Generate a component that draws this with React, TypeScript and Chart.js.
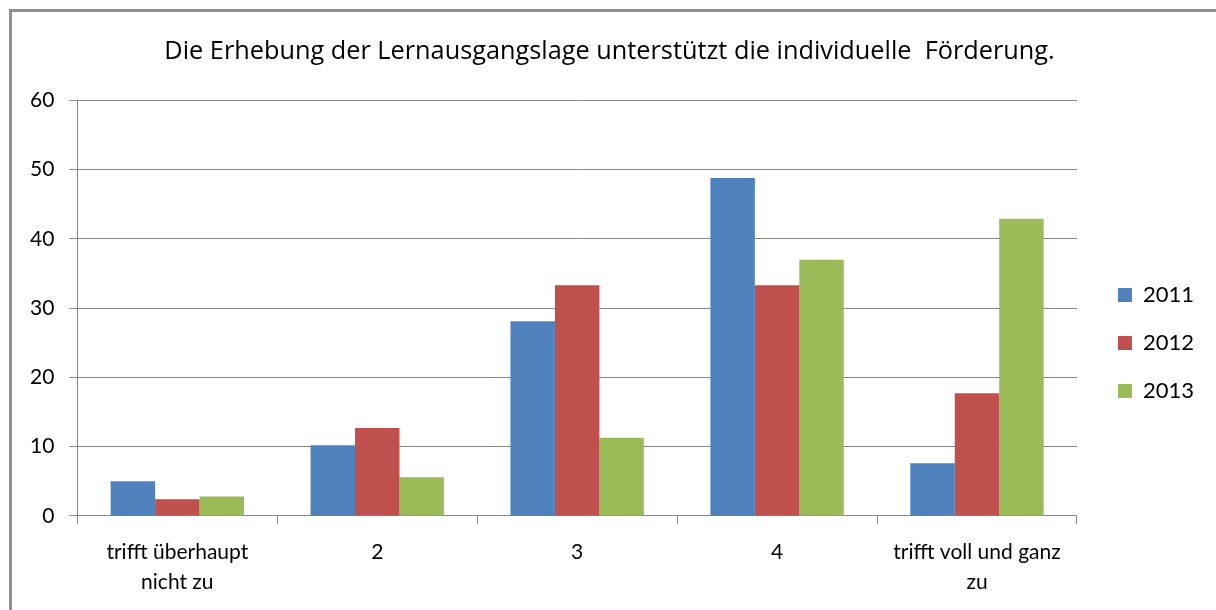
import { useEffect, useRef } from "react";
import { Chart, registerables } from "chart.js";

Chart.register(...registerables);

const titleText = "Die Erhebung der Lernausgangslage unterstützt die individuelle  Förderung.";
const categories: (string | string[])[] = [
  ["trifft überhaupt", "nicht zu"],
  "2",
  "3",
  "4",
  ["trifft voll und ganz", "zu"],
];
const seriesNames = ["2011", "2012", "2013"];
const values2011 = [5.0, 10.2, 28.1, 48.8, 7.6];
const values2012 = [2.4, 12.7, 33.3, 33.3, 17.7];
const values2013 = [2.8, 5.6, 11.3, 37.0, 42.9];
const seriesColors = ["#4F81BD", "#C0504D", "#9BBB59"];
const yMin = 0;
const yMax = 60;
const yStep = 10;

const FONT = "Lato, 'Open Sans', sans-serif";
const TITLE_FONT = "'Open Sans', Lato, sans-serif";
const GRID = "#888888";

export default function App() {
  const ref = useRef<HTMLCanvasElement>(null);

  useEffect(() => {
    const series = [values2011, values2012, values2013];
    const chart = new Chart(ref.current!, {
      type: "bar",
      data: {
        labels: categories,
        datasets: series.map((vals, i) => ({
          label: seriesNames[i],
          data: vals,
          backgroundColor: seriesColors[i],
          borderWidth: 0,
          categoryPercentage: 0.667,
          barPercentage: 1,
          yAxisID: "y",
        })),
      },
      options: {
        animation: false,
        responsive: true,
        maintainAspectRatio: false,
        layout: { padding: { left: 15, right: 12, top: 0, bottom: 0 } },
        plugins: {
          title: {
            display: true,
            text: titleText,
            color: "#000",
            font: { family: TITLE_FONT, size: 25.3, weight: "normal" },
            padding: { top: 37, bottom: 33 },
          },
          legend: {
            position: "right",
            title: {
              display: true,
              text: " ",
              font: { size: 10, lineHeight: 1 },
              padding: { top: 66, bottom: 0 },
            },
            labels: {
              boxWidth: 14,
              boxHeight: 14,
              padding: 26,
              color: "#000",
              font: { family: FONT, size: 22 },
            },
          },
          tooltip: { enabled: false },
        },
        scales: {
          x: {
            grid: {
              offset: true,
              drawOnChartArea: false,
              drawTicks: true,
              tickLength: 8,
              color: GRID,
            },
            border: { color: GRID },
            ticks: {
              color: "#000",
              font: { family: FONT, size: 21, lineHeight: 1.43 },
              padding: 13,
              maxRotation: 0,
              autoSkip: false,
            },
          },
          y: {
            min: yMin,
            max: yMax,
            grid: { color: GRID, tickLength: 8 },
            border: { color: GRID },
            ticks: {
              stepSize: yStep,
              color: "#000",
              font: { family: FONT, size: 21 },
              padding: 15,
            },
          },
          gap: {
            type: "linear",
            position: "right",
            display: true,
            grid: { display: false, drawOnChartArea: false },
            border: { display: false },
            ticks: { display: false },
            afterFit: (scale: any) => {
              scale.width = 15;
            },
          },
        },
      },
    });
    return () => chart.destroy();
  }, []);

  return (
    <>
      <div
        style={{
          position: "fixed",
          left: 0,
          top: 0,
          width: 1216,
          height: 610,
          background: "#fff",
        }}
      >
        <canvas ref={ref} />
      </div>
      <div
        style={{
          position: "fixed",
          left: 9,
          top: 9,
          right: -20,
          bottom: -20,
          border: "3px solid #8f8f8f",
          pointerEvents: "none",
        }}
      />
    </>
  );
}
